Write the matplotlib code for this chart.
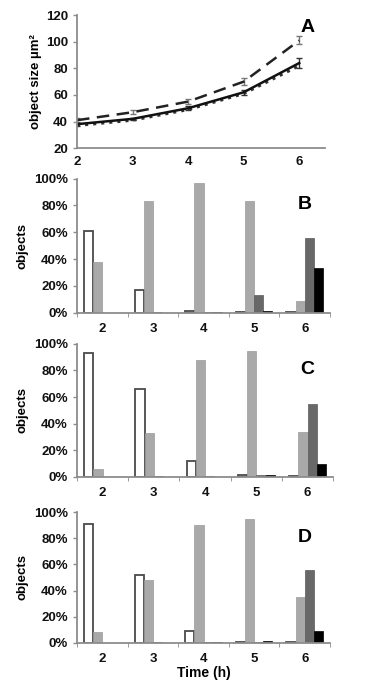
import numpy as np
import matplotlib.pyplot as plt

plt.rcParams['font.family'] = ['Liberation Sans', 'DejaVu Sans']
plt.rcParams['font.weight'] = 'bold'

# panel A: object size over time
hours = [2, 3, 4, 5, 6]
size_dashed = [41, 47, 55, 70, 101]
size_solid = [38, 42, 50, 62, 84]
size_dotted = [37, 41, 49, 61, 82]
err_dashed = [1.5, 1.5, 2, 2.5, 3]
err_solid = [1, 1, 1.5, 2, 3.5]

# panels B-D: fraction of objects per class (white, light, dark, black)
cats = ['2', '3', '4', '5', '6']
B = {'white': [61, 17, 1, 0.5, 0.5],
     'light': [38, 83, 97, 83, 9],
     'dark': [0, 0.5, 0.5, 13, 56],
     'black': [0, 0, 0.5, 1.5, 33]}
C = {'white': [93, 66, 12, 1, 0.5],
     'light': [6, 33, 88, 95, 34],
     'dark': [0, 0.5, 0.5, 1.5, 55],
     'black': [0, 0, 0, 1.5, 9.5]}
D = {'white': [91, 52, 9, 1, 0.5],
     'light': [8, 48, 90, 95, 35],
     'dark': [0, 0.5, 0.5, 1, 56],
     'black': [0, 0, 0.5, 1.5, 9]}

spine_col = '#8c8c8c'
fs = 9.5

fig = plt.figure(figsize=(3.91, 6.92), dpi=100)

def style(ax):
    for s in ['top', 'right']:
        ax.spines[s].set_visible(False)
    for s in ['left', 'bottom']:
        ax.spines[s].set_color(spine_col)
        ax.spines[s].set_linewidth(1.3)
    ax.tick_params(colors=spine_col, labelcolor='#111111', labelsize=fs,
                   width=1, length=3)

# panel A
axA = fig.add_axes([0.197, 0.786, 0.635, 0.192])
axA.errorbar(hours, size_dashed, yerr=err_dashed, color='#222222', lw=1.8,
             ls=(0, (5, 3)), ecolor='#777777', capsize=2.5, elinewidth=1)
axA.plot(hours, size_dotted, color='#333333', lw=2.2, ls=':')
axA.errorbar(hours, size_solid, yerr=err_solid, color='#111111', lw=1.8,
             ecolor='#333333', capsize=2.5, elinewidth=1)
axA.set_xlim(2, 6.47)
axA.set_ylim(20, 120)
axA.set_xticks(hours)
axA.set_yticks(range(20, 121, 20))
axA.set_ylabel('object size µm²', fontsize=fs, fontweight='bold', labelpad=3)
style(axA)
axA.tick_params(axis='x', length=0, pad=6)
axA.text(0.93, 0.97, 'A', transform=axA.transAxes, fontsize=14,
         fontweight='bold', ha='center', va='top')

colors = {'white': 'white', 'light': '#a9a9a9', 'dark': '#686868', 'black': '#000000'}
edges = {'white': '#4a4a4a', 'light': '#9a9a9a', 'dark': '#5a5a5a', 'black': '#000000'}
order = ['white', 'light', 'dark', 'black']

def bar_panel(rect, data, label, xlabel=False):
    ax = fig.add_axes(rect)
    x = np.arange(len(cats))
    w = 0.18
    for i, k in enumerate(order):
        ax.bar(x + (i - 1.5) * w, data[k], width=w, color=colors[k],
               edgecolor=edges[k], linewidth=1.3 if k == 'white' else 0.5)
    ax.set_xlim(-0.5, 4.5)
    ax.set_ylim(0, 100)
    ax.set_yticks(range(0, 101, 20))
    ax.set_yticklabels([f'{v}%' for v in range(0, 101, 20)])
    ax.set_xticks(x)
    ax.set_xticklabels(cats)
    ax.set_xticks(np.arange(-0.5, 4.6, 1), minor=True)
    ax.set_ylabel('objects', fontsize=fs, fontweight='bold', labelpad=4)
    style(ax)
    ax.tick_params(axis='x', which='major', length=0, pad=7)
    ax.tick_params(axis='x', which='minor', length=3, color=spine_col)
    ax.text(0.9, 0.87, label, transform=ax.transAxes, fontsize=14,
            fontweight='bold', ha='center', va='top')
    if xlabel:
        ax.set_xlabel('Time (h)', fontsize=fs + 0.5, fontweight='bold', labelpad=1)
    return ax

bar_panel([0.197, 0.548, 0.647, 0.194], B, 'B')
bar_panel([0.197, 0.311, 0.655, 0.192], C, 'C')
bar_panel([0.197, 0.071, 0.647, 0.189], D, 'D', xlabel=True)

fig.savefig('out.png', dpi=100)
